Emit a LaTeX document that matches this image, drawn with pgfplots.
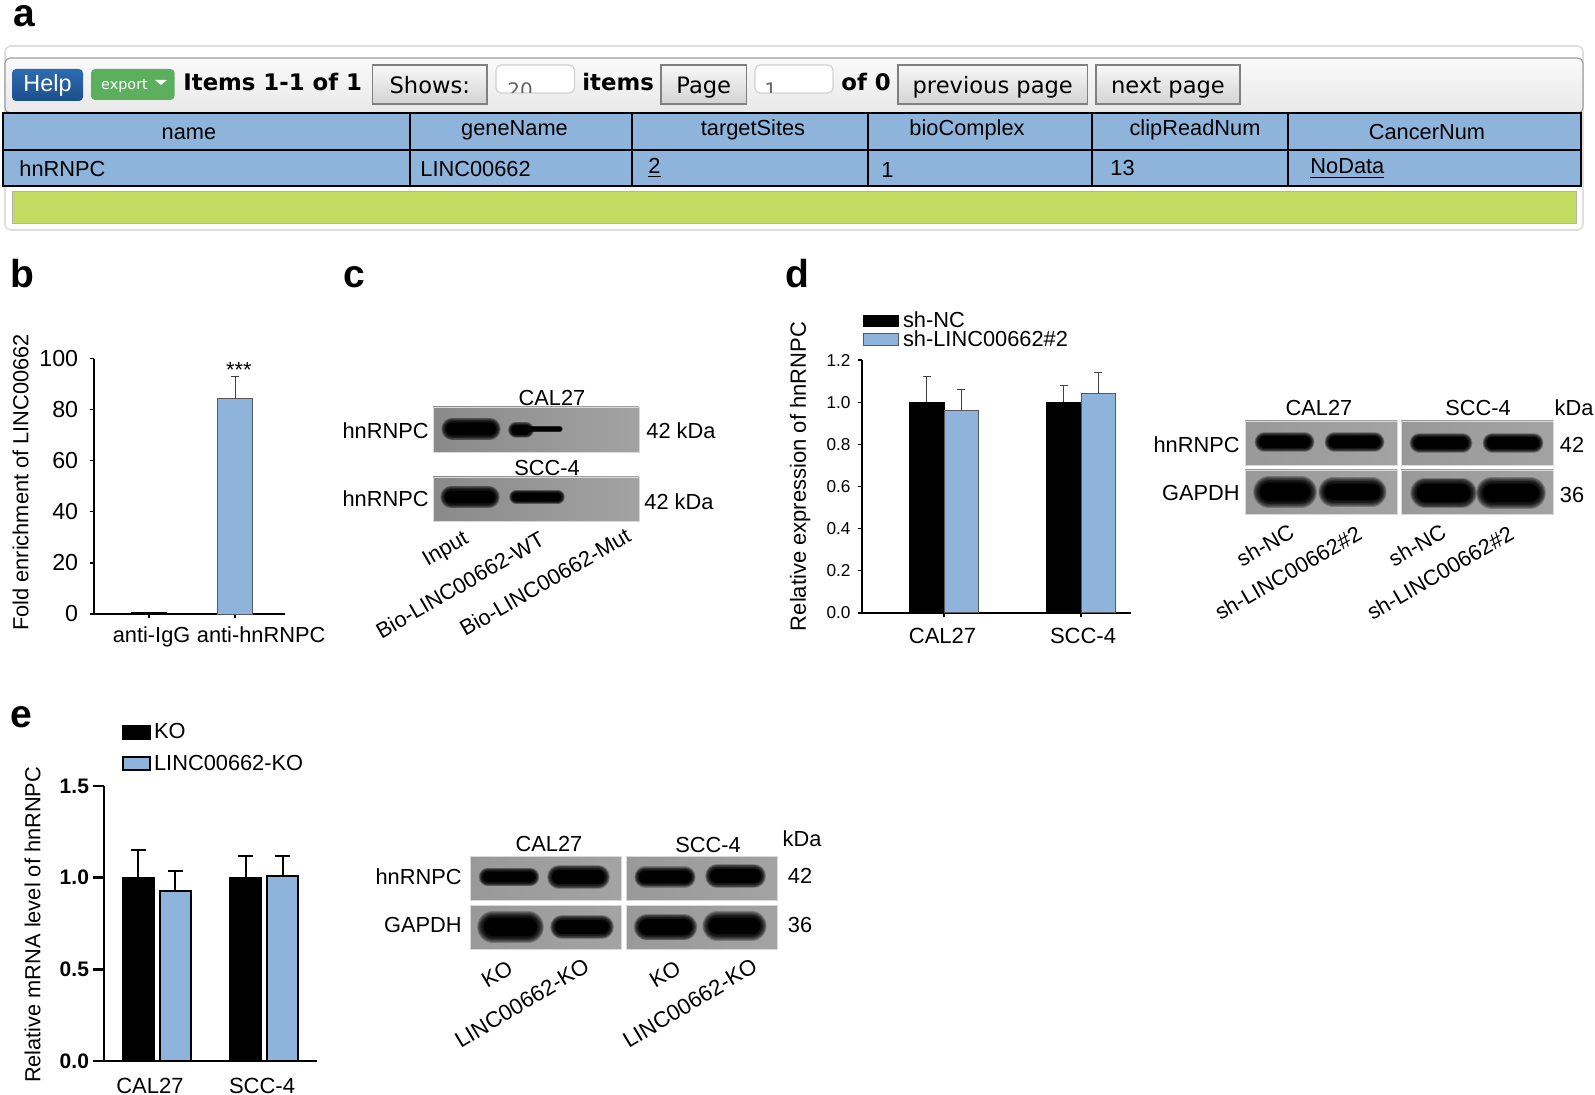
\documentclass[border=0pt]{standalone}
\usepackage{fontspec}
\setmainfont{Liberation Sans}
\newfontfamily\webfont{DejaVu Sans}
\usepackage{pgfplots}
\pgfplotsset{compat=1.18}

\definecolor{barblue}{HTML}{8FB4DC}
\definecolor{okgreen}{HTML}{C3DC5F}
\definecolor{errgray}{gray}{0.25}
\definecolor{helptop}{HTML}{2B6CB0}
\definecolor{helpbot}{HTML}{1C4F8C}
\definecolor{exportgreen}{HTML}{5CAF5C}

\newcommand\fs{\fontsize{10.9}{13}\selectfont}
\newcommand\fst{\fontsize{11}{13}\selectfont}

% one blot band: x1 x2 y height, nested round lines give the blur
\newcommand\band[4]{%
  \pgfmathsetmacro\ba{#1+#4/2}\pgfmathsetmacro\bb{#2-#4/2}%
  \foreach \f in {1.32,1.25,1.18,1.11,1.04,0.97,0.90,0.83}{%
    \draw[line cap=round,black,opacity=.24,line width={#4*\f*0.5pt}] (\ba,#3)--(\bb,#3);
  }
  \draw[line cap=round,black,line width={#4*0.76*0.5pt}] (\ba,#3)--(\bb,#3);
}
\newcommand\blot[5][black!40]{%
  \shade[left color=#1,right color=black!36,draw=black!15,line width=.4pt] (#2,#4) rectangle (#3,#5);
}
\newcommand\btn[3]{%
  \shade[top color=black!3,bottom color=black!17,draw=black!50,line width=.7pt] (#1,65) rectangle (#2,104);
  \node[anchor=base,font=\webfont\fontsize{11.3}{13}\selectfont] at ({(#1+#2)/2},94) {#3};
}

\pgfplotsset{
  panel/.style={
    scale only axis,
    axis x line=bottom, axis y line=left,
    axis line style={-,black,line width=.7pt},
    tick style={black,line width=.6pt},
    tick align=outside,
    major tick length=2.2pt,
    enlargelimits=false,
    clip=false,
    tick label style={font=\fs},
    /pgf/number format/assume math mode=true,
  },
  blackbar/.style={draw=black,fill=black},
  bluebar/.style={draw=black!65,fill=barblue,line width=.5pt},
  errs/.style={
    error bars/.cd, y dir=plus, y explicit,
    error bar style={errgray,line width=.55pt},
    error mark options={errgray,line width=.55pt,mark size=2pt,rotate=90},
  },
}

\begin{document}
\begin{tikzpicture}
\useasboundingbox (0,0) rectangle (797.5pt,-547.5pt);

\begin{scope}[x=0.5pt,y=-0.5pt,every node/.style={inner sep=0pt,font=\fs}]
  % panel letters
  \node[anchor=base west,font=\bfseries\fontsize{19.5}{20}\selectfont] at (13,27) {a};
  \node[anchor=base west,font=\bfseries\fontsize{19.5}{20}\selectfont] at (10,288) {b};
  \node[anchor=base west,font=\bfseries\fontsize{19.5}{20}\selectfont] at (343,288) {c};
  \node[anchor=base west,font=\bfseries\fontsize{19.5}{20}\selectfont] at (785,288) {d};
  \node[anchor=base west,font=\bfseries\fontsize{19.5}{20}\selectfont] at (10,727) {e};

  % panel a, the web table
  \draw[black!13,line width=.8pt,rounded corners=3pt] (5,46) rectangle (1583,230);
  \shade[top color=black!2,bottom color=black!9,draw=black!38,line width=.6pt,rounded corners=2.5pt] (5,58) rectangle (1583,113);
  \shade[top color=helptop,bottom color=helpbot,rounded corners=2pt] (12,69) rectangle (83,101);
  \node[text=white,font=\fontsize{11.7}{13}\selectfont] at (47.5,85) {Help};
  \fill[rounded corners=2pt,exportgreen] (91,69) rectangle (174.5,100);
  \node[text=white,font=\webfont\fontsize{7.2}{9}\selectfont] at (124.5,86) {export};
  \fill[white] (155,80)--(167,80)--(161,85)--cycle;
  \node[anchor=west,font=\webfont\bfseries\fontsize{11.4}{13}\selectfont] at (183,82) {Items 1-1 of 1};
  \btn{372.5}{487}{Shows:}
  \draw[black!18,fill=white,rounded corners=2.5pt,line width=.6pt] (496,65) rectangle (574.5,93);
  \begin{scope}
    \clip (496,65) rectangle (574.5,93);
    \node[text=black!60,anchor=base west,font=\webfont\fontsize{10}{12}\selectfont] at (507,98) {20};
  \end{scope}
  \node[anchor=west,font=\webfont\bfseries\fontsize{11.4}{13}\selectfont] at (582,82) {items};
  \btn{661}{746.5}{Page}
  \draw[black!18,fill=white,rounded corners=2.5pt,line width=.6pt] (755,65) rectangle (833,93);
  \begin{scope}
    \clip (755,65) rectangle (833,93);
    \node[text=black!60,anchor=base west,font=\webfont\fontsize{10}{12}\selectfont] at (764,98) {1};
  \end{scope}
  \node[anchor=west,font=\webfont\bfseries\fontsize{11.4}{13}\selectfont] at (841,82) {of 0};
  \btn{898}{1087.5}{previous page}
  \btn{1096}{1240}{next page}

  \fill[barblue] (3,113) rectangle (1581,186);
  \draw[black,line width=.8pt] (3,113) rectangle (1581,186) (3,150)--(1581,150)
    (410,113)--(410,186) (632,113)--(632,186) (868,113)--(868,186)
    (1092,113)--(1092,186) (1288,113)--(1288,186);
  \node[anchor=base] at (189,140) {name};
  \node[anchor=base] at (514.5,136) {geneName};
  \node[anchor=base] at (753,136) {targetSites};
  \node[anchor=base] at (967,136) {bioComplex};
  \node[anchor=base] at (1195,136) {clipReadNum};
  \node[anchor=base] at (1427,140) {CancerNum};
  \node[anchor=base west] at (19,177) {hnRNPC};
  \node[anchor=base west] at (420,177) {LINC00662};
  \node[anchor=base west] at (648,174) {\underline{2}};
  \node[anchor=base west] at (881,178) {1};
  \node[anchor=base west] at (1110,176) {13};
  \node[anchor=base west] at (1310,174) {\underline{NoData}};
  \fill[okgreen,draw=black!30,line width=.4pt] (12,191) rectangle (1576,223);

  % panel c blots
  \blot[black!46]{433}{639}{407}{452}
  \band{444}{498}{429}{17}
  \band{510}{532}{430}{12}
  \band{524}{562}{429}{5}
  \blot[black!46]{433}{639}{477}{521}
  \band{443}{497}{497}{17}
  \band{511}{563}{497}{11}
  \node at (552,398) {CAL27};
  \node at (547,468) {SCC-4};
  \node[anchor=east] at (429,431) {hnRNPC};
  \node[anchor=east] at (429,499) {hnRNPC};
  \node[anchor=west] at (646,431) {42 kDa};
  \node[anchor=west] at (644,502) {42 kDa};
  \node[rotate=30] at (446,550) {Input};
  \node[rotate=30] at (460,585) {Bio-LINC00662-WT};
  \node[rotate=30] at (545,582) {Bio-LINC00662-Mut};

  % panel d blots
  \blot{1245}{1397}{421}{465}
  \blot{1401}{1553}{421}{465}
  \blot{1245}{1397}{470}{514}
  \blot{1401}{1553}{470}{514}
  \band{1257}{1312}{442}{15}
  \band{1327}{1382}{442}{15}
  \band{1412}{1470}{443}{15}
  \band{1485}{1541}{443}{15}
  \band{1257}{1313}{492}{24}
  \band{1322}{1383}{492}{22}
  \band{1414}{1473}{493}{23}
  \band{1480}{1542}{493}{24}
  \node at (1319,408) {CAL27};
  \node at (1478,408) {SCC-4};
  \node at (1574,408) {kDa};
  \node[anchor=east] at (1240,445) {hnRNPC};
  \node[anchor=east] at (1240,493) {GAPDH};
  \node at (1572,445) {42};
  \node at (1572,495) {36};
  \node[rotate=30] at (1265,545) {sh-NC};
  \node[rotate=30] at (1288,573) {sh-LINC00662\#2};
  \node[rotate=30] at (1417,545) {sh-NC};
  \node[rotate=30] at (1440,573) {sh-LINC00662\#2};

  % panel e blots
  \blot{470}{621}{856}{900}
  \blot{626}{777}{856}{900}
  \blot{470}{621}{905}{949}
  \blot{626}{777}{905}{949}
  \band{481}{537}{877}{14}
  \band{550}{607}{877}{18}
  \band{637}{693}{877}{16}
  \band{708}{763}{876}{18}
  \band{481}{540}{927}{24}
  \band{553}{611}{927}{18}
  \band{637}{694}{927}{20}
  \band{706}{763}{926}{22}
  \node at (549,844) {CAL27};
  \node at (708,845) {SCC-4};
  \node at (802,839) {kDa};
  \node[anchor=east] at (462,877) {hnRNPC};
  \node[anchor=east] at (462,925) {GAPDH};
  \node at (800,876) {42};
  \node at (800,925) {36};
  \node[rotate=31] at (497,974) {KO};
  \node[rotate=31,font=\fontsize{11.1}{13}\selectfont] at (522,1003) {LINC00662-KO};
  \node[rotate=31] at (665,974) {KO};
  \node[rotate=31,font=\fontsize{11.1}{13}\selectfont] at (690,1003) {LINC00662-KO};
\end{scope}

% panel b
\begin{axis}[panel,
  at={(47pt,-307pt)},anchor=south west,
  width=95.5pt,height=127.7pt,
  xmin=-0.64,xmax=1.58,ymin=0,ymax=100,
  ytick={0,20,40,60,80,100},
  yticklabel style={font=\fontsize{11.6}{13}\selectfont,xshift=-2.2pt},
  xtick={0,1},
  xticklabels={\hspace*{2.5pt}anti-IgG,\hspace*{26pt}anti-hnRNPC},
  xticklabel style={yshift=-.6pt},
  ybar,bar width=17.3pt,bar shift=0pt,
  ylabel={Fold enrichment of LINC00662},
  every axis y label/.style={at={(axis description cs:-0.385,0.515)},rotate=90,anchor=center},
  ylabel style={font=\fs},
]
\addplot[blackbar] coordinates {(0,0.8)};
\addplot[bluebar,errs] coordinates {(1,84.5) +- (0,8.5)};
\node[font=\fs] at (axis cs:1.045,95.7) {***};
\end{axis}

% panel d
\begin{axis}[panel,
  at={(431pt,-306.5pt)},anchor=south west,
  width=134.5pt,height=126.5pt,
  xmin=-0.5985,xmax=1.365,ymin=0,ymax=1.2,
  ytick={0,0.2,0.4,0.6,0.8,1.0,1.2},
  /pgf/number format/.cd,fixed,fixed zerofill,precision=1,assume math mode=true,/pgfplots/.cd,
  yticklabel style={font=\fontsize{8.6}{10}\selectfont},
  xtick={0,1},
  xticklabels={CAL27\hspace*{1.5pt},\hspace*{2pt}SCC-4},
  xticklabel style={font=\fst,yshift=-2pt},
  ybar,bar width=17.1pt,
  ylabel={Relative expression of hnRNPC},
  every axis y label/.style={at={(axis description cs:-0.23,0.54)},rotate=90,anchor=center},
  ylabel style={font=\fontsize{11}{13}\selectfont},
  legend style={at={(axis description cs:0.004,1.191)},anchor=north west,draw=none,fill=none,
    inner sep=0pt,outer sep=0pt,row sep=-0.8pt,
    nodes={inner sep=0pt,font=\fs,text height=8pt,text depth=2pt}},
  legend cell align=left,
  legend image code/.code={\draw[#1,yshift=.3pt] (0pt,-2.8pt) rectangle (17.5pt,2.8pt);\path (19.5pt,0);},
]
\addplot[blackbar,bar shift=-8.55pt,errs] coordinates {(0,1.0) +- (0,0.12) (1,1.0) +- (0,0.08)};
\addplot[bluebar,bar shift=8.55pt,errs] coordinates {(0,0.96) +- (0,0.10) (1,1.04) +- (0,0.10)};
\legend{sh-NC,sh-LINC00662\#2}
\end{axis}

% panel e
\begin{axis}[panel,
  at={(52pt,-530.5pt)},anchor=south west,
  width=106.5pt,height=137.5pt,
  axis line style={-,black,line width=1.2pt},
  tick style={black,line width=1.2pt},
  major tick length=5.5pt,
  xmin=-0.495,xmax=1.495,ymin=0,ymax=1.5,
  ytick={0,0.5,1.0,1.5},
  /pgf/number format/.cd,fixed,fixed zerofill,precision=1,assume math mode=true,/pgfplots/.cd,
  yticklabel style={font=\bfseries\fontsize{10.5}{12}\selectfont,xshift=1.5pt},
  xtick={0,1},
  x tick style={draw=none},
  xticklabels={CAL27\hspace*{7pt},SCC-4\hspace*{2pt}},
  xticklabel style={font=\fst,yshift=.7pt},
  ybar,bar width=15.7pt,
  ylabel={Relative mRNA level of hnRNPC},
  every axis y label/.style={at={(axis description cs:-0.335,0.495)},rotate=90,anchor=center},
  ylabel style={font=\fs},
  legend style={at={(axis description cs:0.085,1.2295)},anchor=north west,draw=none,fill=none,
    inner sep=0pt,outer sep=0pt,row sep=5.7pt,
    nodes={inner sep=0pt,font=\fs,text height=8pt,text depth=2pt}},
  legend cell align=left,
  legend image code/.code={\draw[#1,yshift=.3pt] (0pt,-3.2pt) rectangle (13.5pt,3.2pt);\path (15pt,0);},
]
\addplot[draw=black,fill=black,line width=1pt,bar shift=-9.25pt,
  error bars/.cd,y dir=plus,y explicit,
  error bar style={black,line width=1pt},
  error mark options={black,line width=1pt,mark size=3.8pt,rotate=90}]
  coordinates {(0,1.0) +- (0,0.15) (1,1.0) +- (0,0.12)};
\addplot[draw=black,fill=barblue,line width=1pt,bar shift=9.25pt,
  error bars/.cd,y dir=plus,y explicit,
  error bar style={black,line width=1pt},
  error mark options={black,line width=1pt,mark size=3.8pt,rotate=90}]
  coordinates {(0,0.93) +- (0,0.105) (1,1.01) +- (0,0.11)};
\legend{KO,LINC00662-KO}
\end{axis}
\end{tikzpicture}
\end{document}
